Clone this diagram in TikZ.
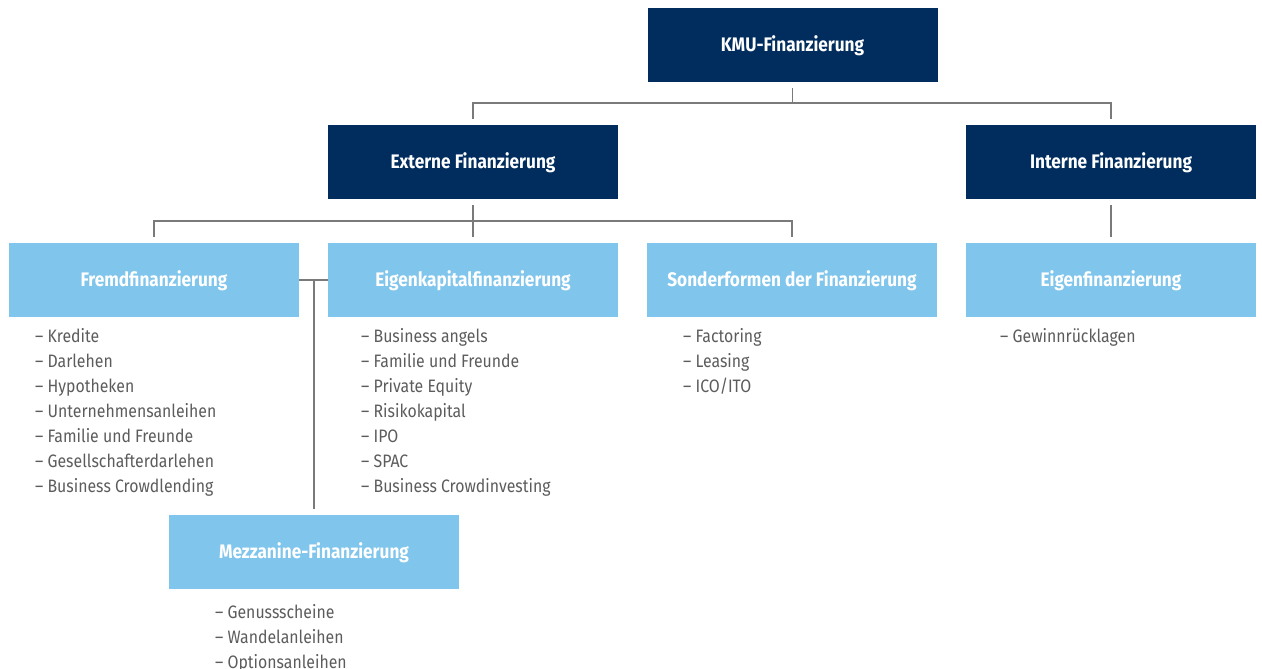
\documentclass[tikz,border=0pt]{standalone}
\usepackage{fontspec}
\setmainfont{Fira Sans}[FakeStretch=0.88]
\usetikzlibrary{positioning}
\definecolor{navy}{HTML}{002D5E}
\definecolor{skyblue}{HTML}{80C5EC}
\definecolor{linegray}{HTML}{7A7A7A}
\definecolor{textgray}{HTML}{5C5C5C}
\begin{document}
\begin{tikzpicture}[x=1pt,y=-1pt,
  boxbase/.style={rectangle, minimum width=290pt, minimum height=74pt, inner sep=0pt,
    text height=14pt, text depth=1pt,
    text=white, font=\fontsize{19.6}{22}\selectfont\bfseries},
  darkbox/.style={boxbase, fill=navy},
  lightbox/.style={boxbase, fill=skyblue},
  itemlist/.style={anchor=north west, align=left, inner sep=0pt, text=textgray,
    font=\fontsize{18}{25}\selectfont},
  conn/.style={draw=linegray, line width=1.5pt}]
\useasboundingbox (0,0) rectangle (1262,669);

% boxes
\node[darkbox]  (kmu)    at (792.5,45)  {KMU-Finanzierung};
\node[darkbox]  (ext)    at (473,162)   {Externe Finanzierung};
\node[darkbox]  (int)    at (1111,162)  {Interne Finanzierung};
\node[lightbox] (fremd)  at (154,280)   {Fremdfinanzierung};
\node[lightbox] (eigk)   at (473,280)   {Eigenkapitalfinanzierung};
\node[lightbox] (sonder) at (792,280)   {Sonderformen der Finanzierung};
\node[lightbox] (eigf)   at (1111,280)  {Eigenfinanzierung};
\node[lightbox] (mezz)   at (314,552)   {Mezzanine-Finanzierung};

% item lists
\node[itemlist] (lfremd) at (35,328) {– Kredite\\– Darlehen\\– Hypotheken\\– Unternehmensanleihen\\– Familie und Freunde\\– Gesellschafterdarlehen\\– Business Crowdlending};
\node[itemlist] (leigk) at (361,328) {– Business angels\\– Familie und Freunde\\– Private Equity\\– Risikokapital\\– IPO\\– SPAC\\– Business Crowdinvesting};
\node[itemlist] (lsonder) at (683,328) {– Factoring\\– Leasing\\– ICO/ITO};
\node[itemlist] (leigf) at (1000,328) {– Gewinnrücklagen};
\node[itemlist] (lmezz) at (215,604) {– Genussscheine\\– Wandelanleihen\\– Optionsanleihen};

% connectors
\coordinate (kmubus) at ([yshift=-21pt]kmu.south);
\draw[conn] ([yshift=-6pt]kmu.south) -- (kmubus);
\draw[conn] (kmubus) -| ([yshift=6pt]ext.north);
\draw[conn] (kmubus) -| ([yshift=6pt]int.north);

\coordinate (extbus) at ([yshift=-22pt]ext.south);
\draw[conn] ([yshift=-6pt]ext.south) -- ([yshift=6pt]eigk.north);
\draw[conn] (extbus) -| ([yshift=6pt]fremd.north);
\draw[conn] (extbus) -| ([yshift=6pt]sonder.north);

\draw[conn] ([yshift=-6pt]int.south) -- ([yshift=6pt]eigf.north);

\coordinate (mezzjoin) at (mezz.north |- fremd.east);
\draw[conn] (fremd.east) -- (eigk.west);
\draw[conn] (mezzjoin) -- ([yshift=6pt]mezz.north);
\end{tikzpicture}
\end{document}
